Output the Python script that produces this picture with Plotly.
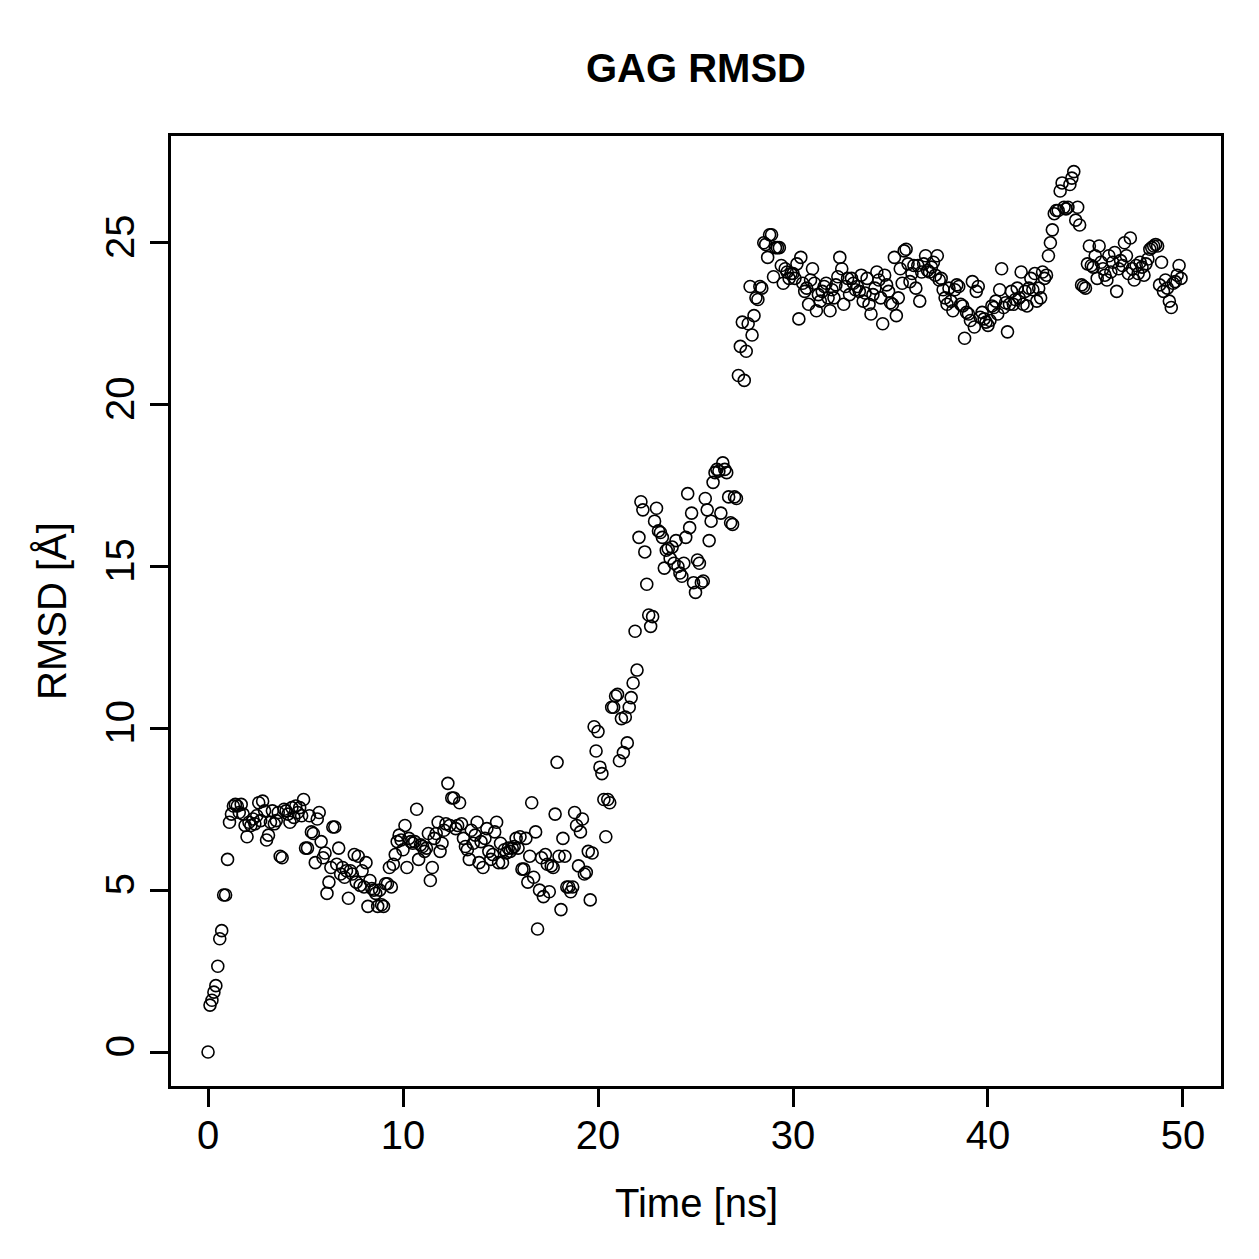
import plotly.graph_objects as go

# RMSD values (Angstrom), one frame every 0.1 ns starting at 0 ns
rmsd = [
    # 0-1 ns
    0.0, 1.45, 1.6, 1.85, 2.05, 2.65, 3.5, 3.75, 4.85, 4.85,
    5.95, 7.1, 7.35, 7.6, 7.65, 7.6, 7.4, 7.65, 7.35, 7.0,
    6.65, 7.1, 7.0, 7.2, 7.05, 7.3, 7.7, 7.15, 7.75, 7.45,
    6.55, 6.7, 7.1, 7.45, 7.05, 7.15, 7.4, 6.05, 6.0, 7.5,
    7.45, 7.35, 7.1, 7.55, 7.25, 7.6, 7.4, 7.55, 7.3, 7.8,
    # 5-10 ns
    6.3, 6.3, 7.3, 6.8, 6.75, 5.85, 7.2, 7.4, 6.5, 6.0,
    6.15, 4.9, 5.25, 5.7, 6.95, 6.95, 5.8, 6.3, 5.5, 5.7,
    5.4, 5.6, 4.75, 5.6, 5.5, 6.1, 5.25, 6.05, 5.15, 5.6,
    5.1, 5.85, 4.5, 5.3, 5.05, 5.0, 4.9, 4.5, 5.0, 4.55,
    4.5, 5.2, 5.2, 5.7, 5.1, 5.8, 6.1, 6.5, 6.7, 6.55,
    # 10-15 ns
    6.25, 7.0, 5.7, 6.6, 6.5, 6.45, 6.5, 7.5, 5.95, 6.4,
    6.35, 6.2, 6.3, 6.75, 5.3, 5.7, 6.6, 6.75, 7.1, 6.2,
    6.45, 6.85, 7.05, 8.3, 7.0, 7.85, 7.85, 6.9, 7.0, 7.7,
    7.05, 6.6, 6.35, 6.25, 5.95, 6.85, 6.45, 6.7, 7.1, 5.85,
    6.5, 5.7, 6.6, 6.9, 6.2, 5.95, 6.1, 6.8, 7.1, 5.85,
    # 15-20 ns
    6.45, 5.85, 6.25, 6.15, 6.3, 6.2, 6.3, 6.35, 6.6, 6.3,
    6.65, 5.65, 5.65, 6.6, 5.25, 6.05, 7.7, 5.4, 6.8, 3.8,
    5.0, 6.0, 4.8, 6.1, 5.8, 4.95, 5.75, 5.7, 7.35, 8.95,
    6.05, 4.4, 6.6, 6.05, 5.1, 5.1, 4.95, 5.1, 7.4, 7.0,
    5.75, 6.8, 7.2, 5.5, 5.55, 6.2, 4.7, 6.15, 10.05, 9.3,
    # 20-25 ns
    9.9, 8.8, 8.6, 7.8, 6.65, 7.8, 7.7, 10.65, 10.65, 11.0,
    11.05, 9.0, 10.3, 9.25, 10.35, 9.55, 10.65, 10.95, 11.4, 13.0,
    11.8, 15.9, 17.0, 16.75, 15.45, 14.45, 13.5, 13.15, 13.45, 16.4,
    16.8, 16.1, 16.05, 15.9, 14.95, 15.5, 15.55, 15.25, 15.6, 15.1,
    15.8, 15.0, 14.8, 14.7, 15.1, 15.9, 17.25, 16.2, 16.65, 14.5,
    # 25-30 ns
    14.2, 15.2, 15.1, 14.5, 14.55, 17.1, 16.75, 15.8, 16.4, 17.6,
    17.9, 18.0, 17.95, 16.65, 18.2, 18.0, 17.9, 17.15, 16.35, 16.3,
    17.15, 17.1, 20.9, 21.8, 22.55, 20.75, 21.65, 22.5, 23.65, 22.15,
    22.75, 23.3, 23.25, 23.65, 23.6, 25.0, 24.95, 24.55, 25.25, 25.25,
    23.95, 24.85, 24.85, 24.85, 24.3, 23.75, 24.2, 24.1, 23.9, 24.05,
    # 30-35 ns
    24.05, 23.9, 24.35, 22.65, 24.55, 23.75, 23.5, 23.6, 23.1, 23.85,
    24.2, 23.75, 22.9, 23.4, 23.2, 23.5, 23.65, 23.75, 23.3, 22.9,
    23.55, 23.3, 23.7, 23.95, 24.55, 24.2, 23.1, 23.65, 23.9, 23.4,
    23.9, 23.75, 23.55, 23.65, 23.5, 24.0, 23.2, 23.45, 23.9, 23.1,
    22.8, 23.4, 23.6, 24.1, 23.85, 23.3, 22.5, 24.0, 23.7, 23.5,
    # 35-40 ns
    23.15, 23.1, 24.55, 22.75, 23.3, 24.2, 23.75, 24.75, 24.8, 24.35,
    23.8, 24.05, 24.3, 23.6, 24.3, 23.2, 24.1, 24.35, 24.6, 24.15,
    24.1, 24.25, 24.4, 24.0, 24.6, 23.85, 23.9, 23.55, 23.3, 23.1,
    23.6, 23.2, 22.9, 23.55, 23.7, 23.65, 23.1, 23.05, 22.05, 22.85,
    22.8, 22.6, 23.8, 22.4, 23.5, 23.65, 22.7, 22.85, 22.65, 22.55,
    # 40-45 ns
    22.45, 22.6, 23.05, 23.0, 23.2, 22.8, 23.55, 24.2, 23.0, 23.15,
    22.25, 23.1, 23.5, 23.1, 23.25, 23.6, 23.3, 24.1, 23.1, 23.5,
    23.05, 23.6, 23.9, 23.55, 24.05, 23.2, 23.6, 23.3, 24.1, 23.9,
    24.0, 24.6, 25.0, 25.4, 25.9, 26.0, 26.0, 26.6, 26.85, 26.1,
    26.05, 26.1, 26.8, 27.0, 27.2, 25.7, 26.1, 25.55, 23.7, 23.65,
    # 45-50 ns
    23.6, 24.35, 24.9, 24.3, 24.25, 24.6, 23.9, 24.9, 24.4, 24.2,
    24.0, 23.85, 24.6, 24.1, 24.4, 24.7, 23.5, 24.2, 24.45, 24.3,
    25.0, 24.6, 24.05, 25.15, 24.2, 23.85, 24.3, 24.05, 24.4, 24.25,
    24.0, 24.35, 24.5, 24.8, 24.85, 24.9, 24.95, 24.9, 23.7, 24.4,
    23.5, 23.85, 23.6, 23.2, 23.0, 23.75, 23.8, 24.0, 24.3, 23.9,
]
time_step_ns = 0.1
time_ns = [round(i * time_step_ns, 1) for i in range(len(rmsd))]

x_ticks = [0, 10, 20, 30, 40, 50]
y_ticks = [0, 5, 10, 15, 20, 25]

title_text = "GAG RMSD"
x_label = "Time [ns]"
y_label = "RMSD [Å]"

FONT = "Liberation Sans, Arial, Helvetica, sans-serif"

fig = go.Figure()
fig.add_trace(go.Scatter(
    x=time_ns, y=rmsd, mode="markers",
    marker=dict(symbol="circle-open", size=12, color="black",
                line=dict(width=1.6, color="black")),
    showlegend=False, hoverinfo="skip",
))

axis_common = dict(
    showline=True, mirror=True, linecolor="black", linewidth=2.5,
    ticks="outside", ticklen=18, tickwidth=2.5, tickcolor="black",
    showgrid=False, zeroline=False,
    tickfont=dict(family=FONT, size=40, color="black"),
)

fig.update_xaxes(range=[-1.9, 51.95], tickvals=x_ticks,
                 ticktext=[str(v) for v in x_ticks], ticklabelstandoff=-6,
                 **axis_common)
fig.update_yaxes(range=[-1.05, 28.3], tickvals=y_ticks,
                 ticktext=[str(v) for v in y_ticks], tickangle=-90,
                 **axis_common)

fig.update_layout(
    width=1259, height=1259,
    margin=dict(l=171, r=38, t=136, b=173, pad=0),
    paper_bgcolor="white", plot_bgcolor="white",
    font=dict(family=FONT, color="black"),
    annotations=[
        dict(text="<b>" + title_text + "</b>", xref="paper", yref="paper",
             x=0.5, y=1 + (136 - 68) / 950, xanchor="center", yanchor="middle",
             showarrow=False, font=dict(family=FONT, size=40, color="black")),
        dict(text=x_label, xref="paper", yref="paper",
             x=0.5, y=-(1203 - 1086) / 950, xanchor="center", yanchor="middle",
             showarrow=False, font=dict(family=FONT, size=40, color="black")),
        dict(text=y_label, xref="paper", yref="paper", textangle=-90,
             x=-(171 - 52) / 1050, y=0.5, xanchor="center", yanchor="middle",
             showarrow=False, font=dict(family=FONT, size=40, color="black")),
    ],
)

fig.write_html("out.html")
